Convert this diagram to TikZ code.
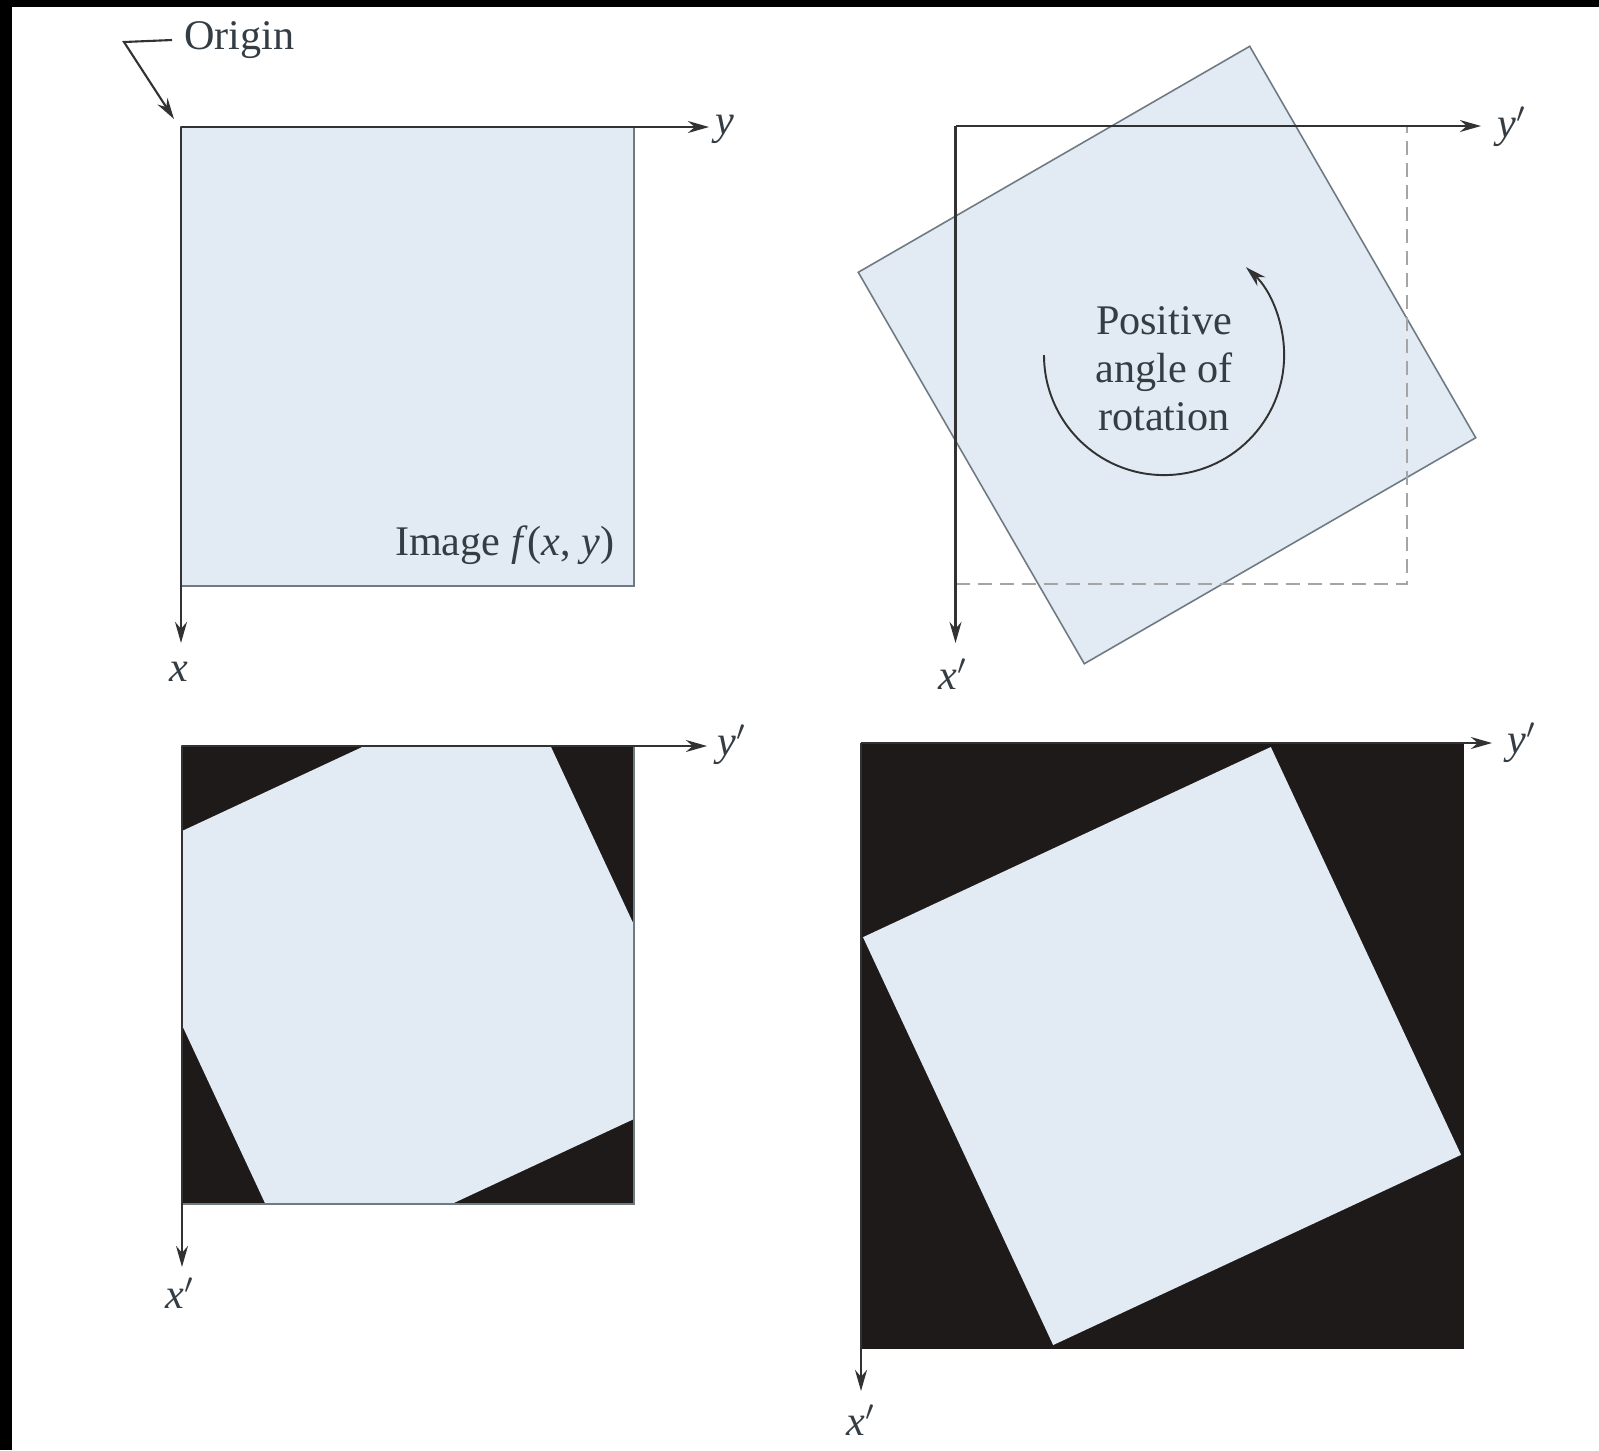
\documentclass[tikz,border=0pt]{standalone}
\usepackage{fontspec}
\setmainfont{Liberation Serif}
\usetikzlibrary{arrows.meta}
\definecolor{imgblue}{RGB}{226,235,243}
\definecolor{edgegray}{RGB}{112,122,130}
\definecolor{axisgray}{RGB}{50,50,50}
\definecolor{dashgray}{RGB}{165,165,165}
\definecolor{textgray}{RGB}{52,60,68}
\definecolor{padblack}{RGB}{30,26,26}

\begin{document}
\begin{tikzpicture}[x=0.01cm, y=-0.01cm, font=\fontsize{12}{13.7}\selectfont]
  \tikzset{axis line/.style={draw=axisgray, line width=0.7pt, -{Stealth[length=6pt,width=3.4pt]}},
           axis label/.style={text=textgray, inner sep=1pt},
           image box/.style={fill=imgblue, draw=edgegray, line width=0.45pt}}

  % Frame of the scan
  \fill[black] (0,0) rectangle (1599,1450);
  \fill[white] (12,7) rectangle (1599,1450);

  % --- Top left: input image ---
  \coordinate (o_tl) at (181,127);
  \coordinate (y_tl) at (709,127);
  \coordinate (x_tl) at (181,643);
  \draw[image box] (o_tl) rectangle (634,586);
  \draw[axis line] (o_tl) -- (y_tl);
  \draw[axis line] (o_tl) -- (x_tl);
  \node[axis label] (lbl_y_tl) at (725,129) {\textit{y}};
  \node[axis label] (lbl_x_tl) at (179,672) {\textit{x}};
  \node[text=textgray, anchor=east, inner sep=0pt] (lbl_image) at (615,545) {Image \textit{f}(\textit{x}, \textit{y})};

  % Origin pointer
  \node[text=textgray, anchor=west] (lbl_origin) at (172,40) {Origin};
  \coordinate (bend_origin) at (124,42);
  \coordinate (tip_origin) at (174,119);
  \draw[axisgray, line width=0.6pt, -{Stealth[length=6pt,width=3.4pt]}] (lbl_origin.west) -- (bend_origin) -- (tip_origin);

  % --- Top right: rotated image over the old frame ---
  \coordinate (o_tr) at (955.5,126);
  \coordinate (y_tr) at (1481,126);
  \coordinate (x_tr) at (955.5,643);
  \coordinate (c_tr) at (1167,355);
  \begin{scope}[shift={(c_tr)}, rotate=30]
    \draw[image box] (-226,-226) -- (226,-226) -- (226,226) -- (-226,226) -- cycle;
  \end{scope}
  \draw[dashgray, line width=0.7pt, dash pattern=on 0.14cm off 0.08cm] (o_tr |- 0,584) -- (1407,584) -- (1407,126);

  % Rotation arrow and its text
  \coordinate (arc_start) at (1044,355);
  \draw[axisgray, line width=0.55pt, -{Stealth[length=6pt,width=3.4pt]}] (arc_start) arc[start angle=180, end angle=407, radius=1.2cm];
  \node[text=textgray, align=center] (lbl_rot) at (1164,369) {Positive\\angle of\\rotation};

  \draw[axis line] (o_tr) -- (y_tr);
  \draw[axis line] (o_tr) -- (x_tr);
  \node[axis label] (lbl_y_tr) at (1512,127) {\textit{y}$'$};
  \node[axis label] (lbl_x_tr) at (953,674) {\textit{x}$'$};

  % --- Bottom left: rotated image cut to the old size ---
  \coordinate (o_bl) at (182,746);
  \coordinate (y_bl) at (707,746);
  \coordinate (x_bl) at (182,1267);
  \fill[padblack] (o_bl) rectangle (634,1204);
  \begin{scope}
    \clip (o_bl) rectangle (634,1204);
    \begin{scope}[shift={(408,975)}, rotate=25]
      \fill[imgblue] (-226,-226) -- (226,-226) -- (226,226) -- (-226,226) -- cycle;
    \end{scope}
  \end{scope}
  \draw[edgegray, line width=0.45pt] (o_bl) rectangle (634,1204);
  \draw[axis line] (o_bl) -- (y_bl);
  \draw[axis line] (o_bl) -- (x_bl);
  \node[axis label] (lbl_y_bl) at (732,745) {\textit{y}$'$};
  \node[axis label] (lbl_x_bl) at (180,1293) {\textit{x}$'$};

  % --- Bottom right: frame grown to hold the whole image ---
  \coordinate (o_br) at (861,743);
  \coordinate (y_br) at (1492,743);
  \coordinate (x_br) at (861,1391);
  \fill[padblack] (o_br) rectangle (1464,1349);
  \begin{scope}[shift={(1162,1046)}, rotate=25]
    \fill[imgblue] (-225,-225) -- (225,-225) -- (225,225) -- (-225,225) -- cycle;
  \end{scope}
  \draw[axis line] (o_br) -- (y_br);
  \draw[axis line] (o_br) -- (x_br);
  \node[axis label] (lbl_y_br) at (1522,743) {\textit{y}$'$};
  \node[axis label] (lbl_x_br) at (861,1420) {\textit{x}$'$};

\end{tikzpicture}
\end{document}
